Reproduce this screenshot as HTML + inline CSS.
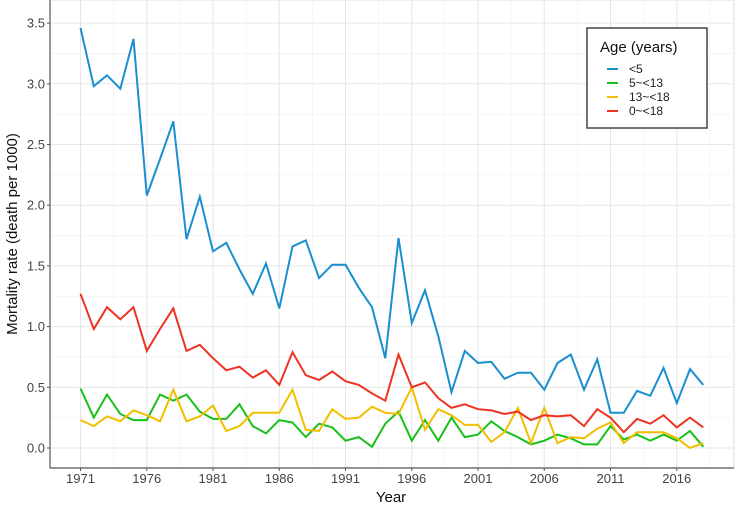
<!DOCTYPE html>
<html><head><meta charset="utf-8"><style>
html,body{margin:0;padding:0;background:#fff;}
svg{display:block;font-family:"Liberation Sans",Arial,sans-serif;}
</style></head><body>
<svg id="chart" width="737" height="508" viewBox="0 0 737 508">
<g id="grid"></g>
<g id="series"></g>
<g id="axes"></g>
<text transform="translate(17,234) rotate(-90)" text-anchor="middle" font-size="15" fill="#111">Mortality rate (death per 1000)</text>
<text x="391" y="502" text-anchor="middle" font-size="15" fill="#111">Year</text>
<g>
<rect x="587" y="28" width="120" height="100" fill="#fff" stroke="#444" stroke-width="1.5"/>
<text x="600" y="52" font-size="15" fill="#111">Age (years)</text>
<g><line x1="607" x2="618" y1="69" y2="69" stroke="#1a8fcf" stroke-width="2"/><text x="629" y="73" font-size="12" fill="#222">&lt;5</text></g>
<g><line x1="607" x2="618" y1="83" y2="83" stroke="#19c019" stroke-width="2"/><text x="629" y="87" font-size="12" fill="#222">5~&lt;13</text></g>
<g><line x1="607" x2="618" y1="97" y2="97" stroke="#f2be00" stroke-width="2"/><text x="629" y="101" font-size="12" fill="#222">13~&lt;18</text></g>
<g><line x1="607" x2="618" y1="111" y2="111" stroke="#ee3322" stroke-width="2"/><text x="629" y="115" font-size="12" fill="#222">0~&lt;18</text></g>
</g>
</svg>
<script>
const startYear = 1971;
const xTickLabels = [1971,1976,1981,1986,1991,1996,2001,2006,2011,2016];
const yTickLabels = ["0.0","0.5","1.0","1.5","2.0","2.5","3.0","3.5"];
const under5 = [3.46,2.98,3.07,2.96,3.37,2.08,2.38,2.69,1.72,2.07,1.62,1.69,1.47,1.27,1.52,1.15,1.66,1.71,1.40,1.51,1.51,1.32,1.16,0.74,1.73,1.03,1.30,0.92,0.46,0.80,0.70,0.71,0.57,0.62,0.62,0.48,0.70,0.77,0.48,0.73,0.29,0.29,0.47,0.43,0.66,0.37,0.65,0.52];
const age5to13 = [0.49,0.25,0.44,0.28,0.23,0.23,0.44,0.39,0.44,0.30,0.24,0.24,0.36,0.18,0.12,0.23,0.21,0.09,0.20,0.17,0.06,0.09,0.01,0.20,0.30,0.06,0.23,0.06,0.25,0.09,0.11,0.22,0.14,0.09,0.03,0.06,0.11,0.08,0.03,0.03,0.18,0.07,0.11,0.06,0.11,0.06,0.14,0.01];
const age13to18 = [0.23,0.18,0.26,0.22,0.31,0.27,0.22,0.48,0.22,0.26,0.35,0.14,0.18,0.29,0.29,0.29,0.48,0.15,0.14,0.32,0.24,0.25,0.34,0.29,0.28,0.50,0.15,0.32,0.27,0.19,0.19,0.05,0.13,0.33,0.04,0.33,0.04,0.09,0.08,0.16,0.21,0.04,0.13,0.13,0.13,0.08,0.00,0.04];
const age0to18 = [1.27,0.98,1.16,1.06,1.16,0.80,0.98,1.15,0.80,0.85,0.74,0.64,0.67,0.58,0.64,0.52,0.79,0.60,0.56,0.63,0.55,0.52,0.45,0.39,0.77,0.50,0.54,0.41,0.33,0.36,0.32,0.31,0.28,0.30,0.23,0.27,0.26,0.27,0.18,0.32,0.25,0.13,0.24,0.20,0.27,0.17,0.25,0.17];

const NS="http://www.w3.org/2000/svg";
const X0=50, X1=734, Y0=0, Y1=468;
function xs(year){ return 80.5 + (year-1971)*13.25; }
function ys(v){ return 448 - v*121.4; }
function mk(tag, attrs, parent){ const e=document.createElementNS(NS,tag); for(const k in attrs) e.setAttribute(k,attrs[k]); parent.appendChild(e); return e; }

const grid=document.getElementById('grid');
mk('rect',{x:X0,y:Y0,width:X1-X0,height:Y1-Y0,fill:'#fff',stroke:'#ddd'},grid);
for(let v=-0.25; v<=3.75; v+=0.25){
  const y=ys(v); if(y<Y0||y>Y1) continue;
  const major=Math.abs(v*2-Math.round(v*2))<1e-6;
  const l=mk('line',{x1:X0,x2:X1,y1:y,y2:y,stroke:major?'#e6e6e6':'#f3f3f3','stroke-width':major?1:0.8},grid);
  
  
}
for(let yr=1966; yr<=2024; yr+=2.5){
  const x=xs(yr); if(x<X0||x>X1) continue;
  const major=((yr-1971)%5)===0;
  const l=mk('line',{x1:x,x2:x,y1:Y0,y2:Y1,stroke:major?'#e6e6e6':'#f3f3f3','stroke-width':major?1:0.8},grid);
  
  
}

const ser=document.getElementById('series');
function drawLine(arr,color,name){
  const pts=arr.map((v,i)=>xs(startYear+i).toFixed(1)+','+ys(v).toFixed(1)).join(' ');
  const p=mk('polyline',{points:pts,fill:'none',stroke:color,'stroke-width':2,'stroke-linejoin':'miter'},ser);
  
  
}
drawLine(under5,'#1a8fcf','line-under-5');
drawLine(age5to13,'#19c019','line-5-13');
drawLine(age13to18,'#f2be00','line-13-18');
drawLine(age0to18,'#ee3322','line-0-18');

const ax=document.getElementById('axes');
mk('line',{x1:X0,x2:X0,y1:Y0,y2:Y1,stroke:'#555','stroke-width':1.2},ax);
mk('line',{x1:X0,x2:X1,y1:Y1,y2:Y1,stroke:'#555','stroke-width':1.2},ax);
yTickLabels.forEach(s=>{
  const y=ys(parseFloat(s));
  mk('line',{x1:X0-3,x2:X0,y1:y,y2:y,stroke:'#555'},ax);
  const t=mk('text',{x:X0-5,y:y+4.5,'text-anchor':'end','font-size':13,fill:'#444'},ax);
  t.textContent=s;
  
  
});
xTickLabels.forEach(yr=>{
  const x=xs(yr);
  mk('line',{x1:x,x2:x,y1:Y1,y2:Y1+3,stroke:'#555'},ax);
  const t=mk('text',{x:x,y:483,'text-anchor':'middle','font-size':13,fill:'#444'},ax);
  t.textContent=yr;
  
  
});
</script>
</body></html>
